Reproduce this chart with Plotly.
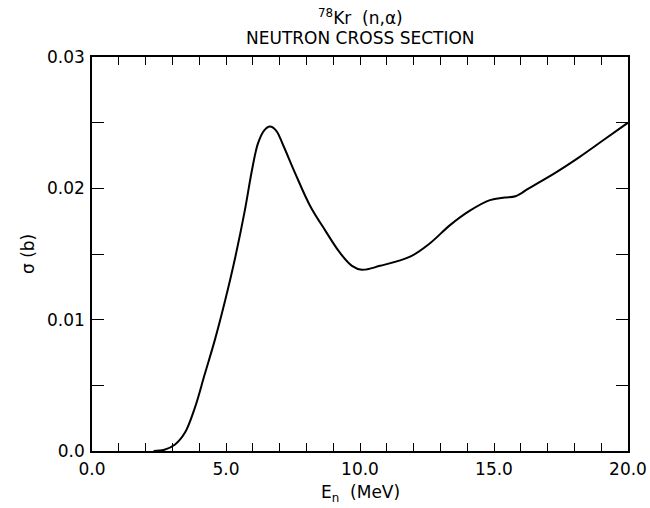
import plotly.graph_objects as go

# Data
energy_mev = [2.3, 2.7, 3.1, 3.47, 3.84, 4.2, 4.59, 4.96, 5.34, 5.71, 5.97, 6.19,
              6.42, 6.64, 6.87, 7.13, 7.57, 8.13, 8.7, 9.25, 9.7, 10.07, 10.75,
              11.87, 12.6, 13.36, 14.1, 14.85, 15.4, 15.8, 16.3, 17.3, 18.2,
              19.1, 20.0]
sigma_b = [0.0, 0.0001, 0.0005, 0.0014, 0.0033, 0.0058, 0.0085, 0.0114, 0.0147,
           0.0184, 0.0214, 0.0234, 0.0244, 0.0247, 0.0244, 0.0233, 0.0212,
           0.0187, 0.0168, 0.0151, 0.0141, 0.0138, 0.0141, 0.0148, 0.0158,
           0.0172, 0.0183, 0.0191, 0.0193, 0.0194, 0.0200, 0.0212, 0.0224,
           0.0237, 0.0250]

x_tick_vals = [0, 5, 10, 15, 20]
x_tick_text = ["0.0", "5.0", "10.0", "15.0", "20.0"]
y_tick_vals = [0.0, 0.01, 0.02, 0.03]
y_tick_text = ["0.0", "0.01", "0.02", "0.03"]

FONT = "DejaVu Sans, Liberation Sans, sans-serif"
FS = 17

fig = go.Figure()
fig.add_trace(go.Scatter(
    x=energy_mev, y=sigma_b, mode="lines",
    line=dict(color="black", width=2, shape="spline", smoothing=1.0),
    showlegend=False, hoverinfo="skip",
))

fig.update_layout(
    width=650, height=508,
    margin=dict(l=92, r=22, t=57, b=57, autoexpand=False),
    paper_bgcolor="white", plot_bgcolor="white",
    font=dict(family=FONT, color="black", size=FS),
    xaxis=dict(
        range=[0, 20], tickvals=x_tick_vals, ticktext=x_tick_text,
        ticks="inside", ticklen=8, tickwidth=1.2, tickcolor="black",
        minor=dict(dtick=1, ticks="inside", ticklen=8, tickwidth=1.2, tickcolor="black"),
        showline=True, linecolor="black", linewidth=1.5, mirror="ticks",
        showgrid=False, zeroline=False, ticklabelstandoff=2, automargin=False,
        tickfont=dict(size=FS),
    ),
    yaxis=dict(
        range=[0, 0.03], tickvals=y_tick_vals, ticktext=y_tick_text,
        ticks="inside", ticklen=12, tickwidth=1.2, tickcolor="black",
        minor=dict(dtick=0.005, ticks="inside", ticklen=12, tickwidth=1.2, tickcolor="black"),
        showline=True, linecolor="black", linewidth=1.5, mirror="ticks",
        showgrid=False, zeroline=False, ticklabelstandoff=2, automargin=False,
        tickfont=dict(size=FS),
    ),
    annotations=[
        dict(text="<sup>78</sup>Kr  (n,α)", xref="paper", yref="paper", x=0.5, y=1.0,
             yshift=40, xanchor="center", yanchor="middle", showarrow=False,
             font=dict(size=FS)),
        dict(text="NEUTRON CROSS SECTION", xref="paper", yref="paper", x=0.5, y=1.0,
             yshift=19, xanchor="center", yanchor="middle", showarrow=False,
             font=dict(size=FS)),
        dict(text="E<sub>n</sub>  (MeV)", xref="paper", yref="paper", x=0.5, y=0.0,
             yshift=-42, xanchor="center", yanchor="middle", showarrow=False,
             font=dict(size=FS)),
        dict(text="σ (b)", xref="paper", yref="paper", x=0.0, y=0.5, xshift=-64,
             xanchor="center", yanchor="middle", textangle=-90, showarrow=False,
             font=dict(size=FS)),
    ],
)

fig.write_html("out.html")
